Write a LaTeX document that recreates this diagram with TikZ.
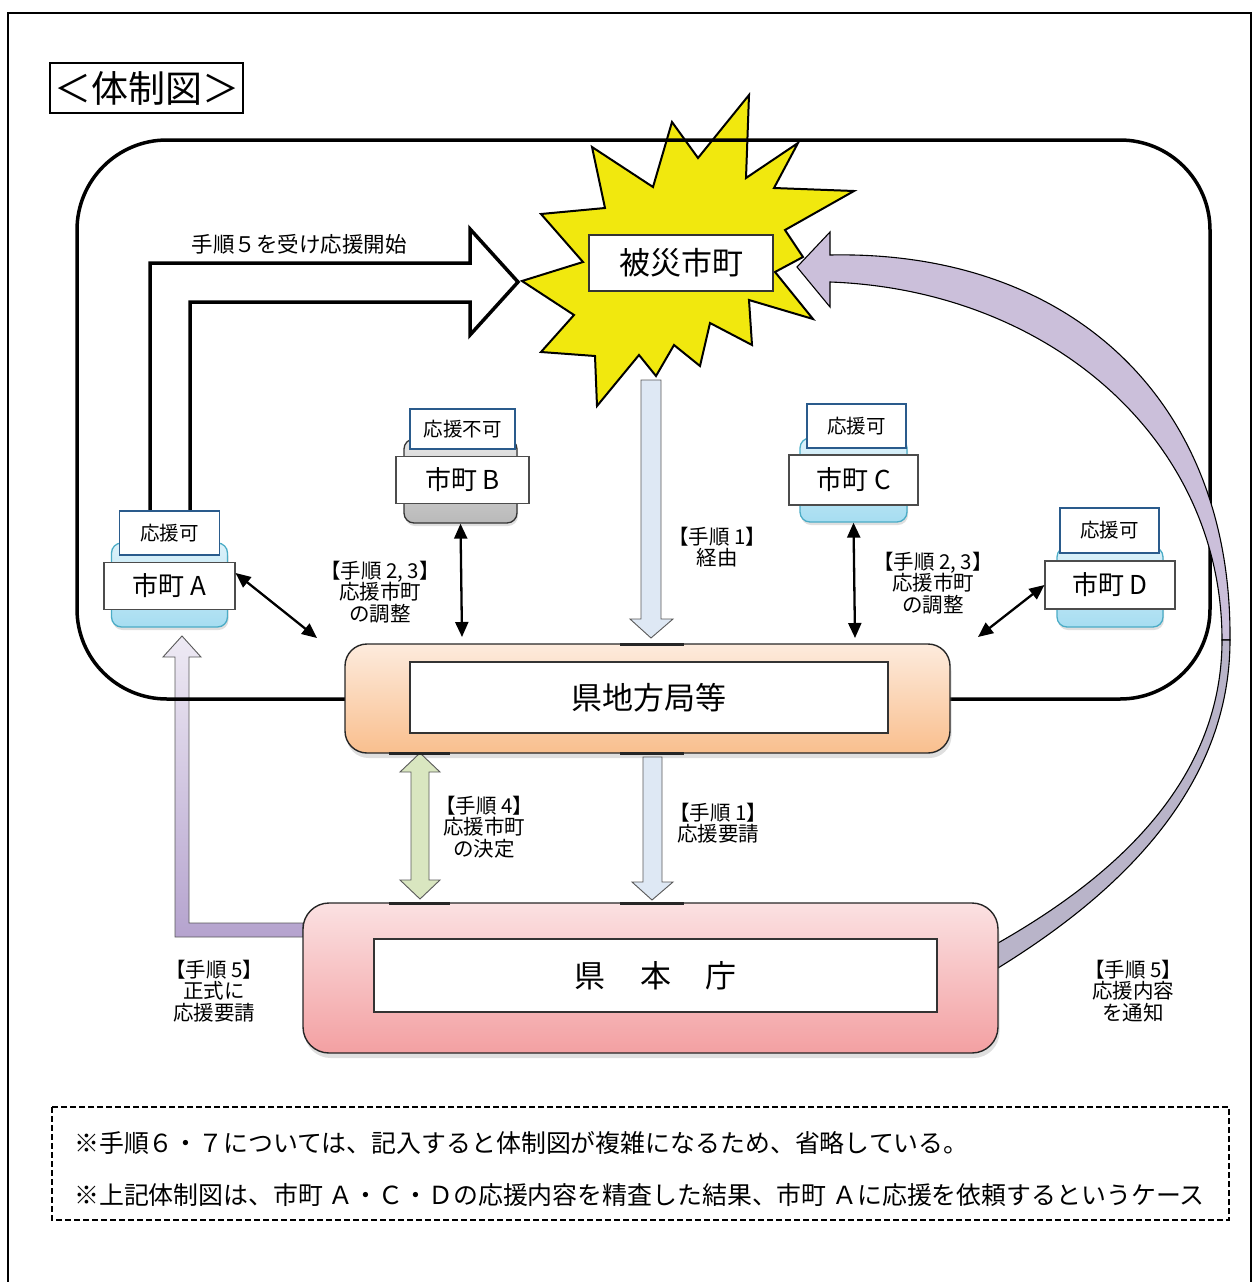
\documentclass[tikz,border=0pt]{standalone}
\usepackage{fontspec}
\setmainfont{Noto Sans CJK JP}
\usetikzlibrary{arrows.meta,shadows}
\definecolor{starY}{HTML}{F1E80E}
\definecolor{tagBlue}{HTML}{2A5B8C}
\definecolor{tealB}{HTML}{4BACC6}
\definecolor{cityTop}{HTML}{DDF2FA}
\definecolor{cityBot}{HTML}{A6DDF1}
\definecolor{greyTop}{HTML}{E6E6E6}
\definecolor{greyBot}{HTML}{B9B9B9}
\definecolor{orTop}{HTML}{FDEBDD}
\definecolor{orBot}{HTML}{F9BF8E}
\definecolor{pkTop}{HTML}{FBE1E2}
\definecolor{pkBot}{HTML}{F3A0A2}
\definecolor{bluL}{HTML}{DEE8F4}
\definecolor{bluD}{HTML}{A3BFE4}
\definecolor{grnL}{HTML}{EEF4E1}
\definecolor{grnD}{HTML}{D9E6C0}
\definecolor{purL}{HTML}{EEEAF4}
\definecolor{purD}{HTML}{B5A3CE}
\definecolor{purA}{HTML}{CBBFDA}
\definecolor{purB}{HTML}{B9B4C9}
\begin{document}
\begin{tikzpicture}[x=1pt,y=-1pt,%体制図
  cityback/.style={rounded corners=10pt,draw=tealB,line width=1.3pt,top color=cityTop,bottom color=cityBot,
    minimum width=116pt,minimum height=84pt,drop shadow={shadow xshift=1pt,shadow yshift=-3pt,opacity=.25}},
  tagbox/.style={draw=tagBlue,line width=1.3pt,fill=white,minimum width=100pt,minimum height=44pt,inner sep=0pt,
    font=\fontsize{19.5}{20}\selectfont},
  citybox/.style={draw=black!70,line width=1.1pt,fill=white,minimum width=131pt,minimum height=47pt,inner sep=0pt,
    font=\fontsize{26}{28}\selectfont},
  labtxt/.style={align=center,inner sep=0pt,font=\fontsize{20.5}{21.5}\selectfont},
  dblarr/.style={<->,>={Triangle[length=15pt,width=13pt]},line width=2.3pt},
  blockarr/.style={draw=black!65,line width=0.9pt},
  junc/.style={line width=3pt,black!85},
  bigbox/.style={rounded corners=22pt,draw=black!85,line width=1.4pt,
    drop shadow={shadow xshift=1.5pt,shadow yshift=-5pt,opacity=.25}},
  innerbox/.style={draw=black!80,line width=1.1pt,fill=white,inner sep=0pt,font=\fontsize{31}{33}\selectfont}]
\useasboundingbox (0,0) rectangle (1254,1282);
\draw[line width=2.5pt] (8,1282) -- (8,13) -- (1251,13) -- (1251,1282);
\node[draw,line width=1.2pt,minimum width=193pt,minimum height=50pt,inner sep=0pt,font=\fontsize{37}{40}\selectfont]
  (title) at (146.5,88) {＜体制図＞};
% 被災市町
\filldraw[fill=starY,line width=2pt,line join=miter] (749,95) -- (746,178) -- (798,143) -- (774,188) -- (854,191)
  -- (785,230) -- (803,257) -- (775,272) -- (813,319) -- (749,300) -- (752,345) -- (710,323) -- (700,366)
  -- (674,345) -- (656,376) -- (639,355) -- (597,406) -- (595,356) -- (541,352) -- (574,315) -- (522,281)
  -- (583,262) -- (541,214) -- (605,208) -- (592,147) -- (653,187) -- (672,122) -- (698,158) -- cycle;
% 手順5 (left)
\draw[blockarr,top color=purL,bottom color=purD] (303,923) -- (189,923) -- (189,657) -- (201,657) -- (182,636)
  -- (163,657) -- (175,657) -- (175,937) -- (303,937) -- cycle;
\draw[line width=3.5pt,rounded corners=90pt] (77,140) rectangle (1210,699);
% 手順5 (right)
\filldraw[fill=purA,line width=1.1pt] (830,255) .. controls (1070,250) and (1232,400) .. (1230,640)
  -- (1222,640) .. controls (1222,440) and (1050,290) .. (830,282) -- (830,307) -- (797,267) -- (830,232) -- cycle;
\filldraw[fill=purB,line width=1.1pt] (1230,640) .. controls (1230,800) and (1100,905) .. (998,968)
  -- (998,943) .. controls (1100,885) and (1222,790) .. (1222,640) -- cycle;
\node[innerbox,minimum width=184pt,minimum height=56pt] (hisai) at (681,263) {被災市町};
% 手順5を受け
\filldraw[fill=white,line width=3.5pt] (150,512) -- (150,263) -- (470,263) -- (470,229) -- (518,282)
  -- (470,335) -- (470,302) -- (190,302) -- (190,512);
\node[labtxt,font=\fontsize{21.5}{22}\selectfont] (start5) at (299,244) {手順５を受け応援開始};
% 市町
\node[cityback] (backA) at (169.5,585) {};
\node[tagbox] (tagA) at (169.5,533) {応援可};
\node[citybox] (cityA) at (169.5,586) {市町 A};
\node[cityback,draw=black!80,top color=greyTop,bottom color=greyBot,minimum width=113pt] (backB) at (460.5,481) {};
\node[tagbox,minimum width=105pt,minimum height=40pt] (tagB) at (462.5,429) {応援不可};
\node[citybox,minimum width=133pt] (cityB) at (462.5,480) {市町 B};
\node[cityback,minimum width=107pt] (backC) at (853.5,480) {};
\node[tagbox,minimum width=99pt] (tagC) at (856.5,426) {応援可};
\node[citybox,minimum width=129pt,minimum height=50pt] (cityC) at (853.5,480) {市町 C};
\node[cityback,minimum width=106pt,minimum height=80pt] (backD) at (1110,587) {};
\node[tagbox,minimum width=99pt,minimum height=45pt] (tagD) at (1109.5,530.5) {応援可};
\node[citybox,minimum width=130pt,minimum height=48pt] (cityD) at (1110,585) {市町 D};
% 県地方局等, 県本庁
\node[bigbox,top color=orTop,bottom color=orBot,minimum width=605pt,minimum height=109pt] (chiho) at (647.5,698.5) {};
\node[innerbox,minimum width=478pt,minimum height=71pt] (chihoT) at (649,697.5) {県地方局等};
\node[bigbox,rounded corners=26pt,top color=pkTop,bottom color=pkBot,minimum width=695pt,minimum height=150pt]
  (honcho) at (650.5,978) {};
\node[innerbox,minimum width=563pt,minimum height=73pt] (honchoT) at (655.5,975.5) {県\hspace{1.1em}本\hspace{1.1em}庁};
% 手順1
\draw[blockarr,top color=bluL,middle color=bluD,bottom color=bluL] (641,380) -- (661,380) -- (661,619) -- (673,619)
  -- (651,638) -- (630,619) -- (641,619) -- cycle;
\draw[blockarr,top color=bluL,middle color=bluD,bottom color=bluL] (643,757) -- (662,757) -- (662,882) -- (673,882)
  -- (652,900) -- (632,882) -- (643,882) -- cycle;
% 手順4
\draw[blockarr,top color=grnD,middle color=grnL,bottom color=grnD] (420,753) -- (440,772) -- (429,772) -- (429,880)
  -- (440,880) -- (420,899) -- (400,880) -- (411,880) -- (411,772) -- (400,772) -- cycle;
\draw[junc] (620,644) -- (684,644);
\draw[junc] (389,753) -- (450,753) (620,753) -- (684,753);
\draw[junc] (389,903) -- (450,903) (620,903) -- (684,903);
% 手順2,3
\coordinate (endA) at (317,638);
\coordinate (endB) at (462,637);
\coordinate (endC) at (855,638);
\coordinate (endD) at (978,637);
\draw[dblarr] ([yshift=13pt]cityA.east) -- (endA);
\draw[dblarr] (backB.south) -- (endB);
\draw[dblarr] (backC.south) -- (endC);
\draw[dblarr] (cityD.west) -- (endD);
\node[labtxt] (lab23L) at (380,592) {【手順 2, 3】\\応援市町\\の調整};
\node[labtxt] (lab23R) at (933,583) {【手順 2, 3】\\応援市町\\の調整};
\node[labtxt] (lab1a) at (717,547) {【手順 1】\\経由};
\node[labtxt] (lab4) at (484,827) {【手順 4】\\応援市町\\の決定};
\node[labtxt] (lab1b) at (718,823) {【手順 1】\\応援要請};
\node[labtxt] (lab5L) at (214,991) {【手順 5】\\正式に\\応援要請};
\node[labtxt] (lab5R) at (1133,991) {【手順 5】\\応援内容\\を通知};
% 注記
\draw[line width=1.3pt,dash pattern=on 6pt off 3pt] (52,1107) rectangle (1229,1220);
\node[anchor=west,inner sep=0pt,font=\fontsize{24.9}{26}\selectfont] (note1) at (74,1143)
  {※手順６・７については、記入すると体制図が複雑になるため、省略している。};
\node[anchor=west,inner sep=0pt,font=\fontsize{24.9}{26}\selectfont] (note2) at (74,1195)
  {※上記体制図は、市町 Ａ・Ｃ・Ｄの応援内容を精査した結果、市町 Ａに応援を依頼するというケース};
\end{tikzpicture}
\end{document}
